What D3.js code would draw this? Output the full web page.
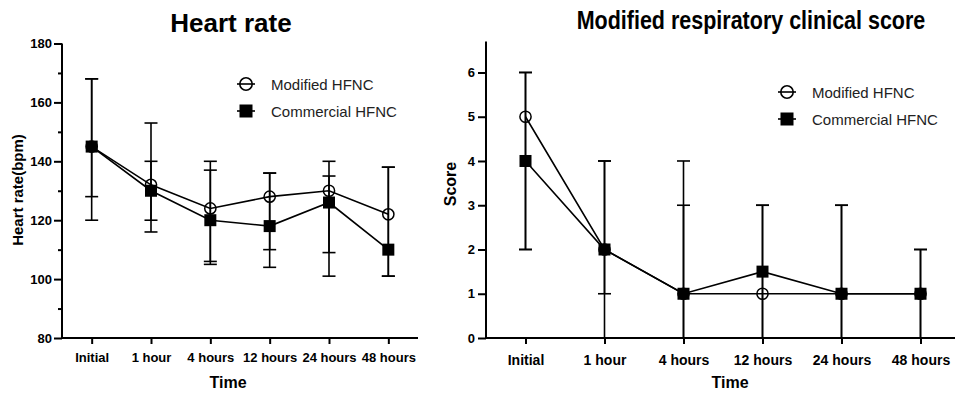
<!DOCTYPE html>
<html>
<head>
<meta charset="utf-8">
<script src="https://cdn.jsdelivr.net/npm/d3@7"></script>
<style>
  body { margin: 0; background: #fff; }
  svg { font-family: "Liberation Sans", Arial, sans-serif; }
</style>
</head>
<body>
<div id="chart"></div>
<script>
const WIDTH = 955;
const HEIGHT = 393;

// categories (same for both panels)
const times = ["Initial", "1 hour", "4 hours", "12 hours", "24 hours", "48 hours"];
const seriesNames = ["Modified HFNC", "Commercial HFNC"];

// heart rate panel
const hrModified = [145, 132, 124, 128, 130, 122];
const hrModifiedLow = [120, 116, 106, 110, 109, 101];
const hrModifiedHigh = [168, 153, 140, 136, 140, 138];
const hrCommercial = [145, 130, 120, 118, 126, 110];
const hrCommercialLow = [128, 120, 105, 104, 101, 101];
const hrCommercialHigh = [168, 140, 137, 136, 135, 138];
const hrTicks = [80, 100, 120, 140, 160, 180];
const hrMinorTicks = [90, 110, 130, 150, 170];

// respiratory score panel
const scModified = [5, 2, 1, 1, 1, 1];
const scModifiedLow = [2, 0, 0, 0, 0, 0];
const scModifiedHigh = [6, 4, 4, 3, 3, 2];
const scCommercial = [4, 2, 1, 1.5, 1, 1];
const scCommercialLow = [2, 1, 0, 0, 0, 0];
const scCommercialHigh = [6, 4, 3, 3, 3, 2];
const scTicks = [0, 1, 2, 3, 4, 5, 6];

const svg = d3.select("#chart")
  .append("svg")
    .attr("width", WIDTH)
    .attr("height", HEIGHT);

function drawPanel(opt) {
  const g = svg.append("g");
  const x = d3.scalePoint().domain(times).range(opt.xRange).padding(0.5);
  const y = d3.scaleLinear().domain(opt.yDomain).range(opt.yRange);

  // error bars
  const CAP = 6.5;
  opt.series.forEach((s) => {
    times.forEach((t, i) => {
      const cx = x(t);
      g.append("line")
        .attr("x1", cx).attr("x2", cx)
        .attr("y1", y(s.low[i])).attr("y2", y(s.high[i]))
        .attr("stroke", "#000").attr("stroke-width", 1.6);
      [s.low[i], s.high[i]].forEach((v) => {
        g.append("line")
          .attr("x1", cx - CAP).attr("x2", cx + CAP)
          .attr("y1", y(v)).attr("y2", y(v))
          .attr("stroke", "#000").attr("stroke-width", 1.6);
      });
    });
  });

  // lines
  const line = d3.line().x((d, i) => x(times[i])).y((d) => y(d));
  opt.series.forEach((s) => {
    g.append("path")
      .datum(s.values)
      .attr("d", line)
      .attr("fill", "none")
      .attr("stroke", "#000")
      .attr("stroke-width", 1.6);
  });

  // markers
  opt.series.forEach((s) => {
    if (s.shape === "circle") {
      g.selectAll(null).data(s.values).enter().append("circle")
        .attr("cx", (d, i) => x(times[i]))
        .attr("cy", (d) => y(d))
        .attr("r", 5.6)
        .attr("fill", "none")
        .attr("stroke", "#000")
        .attr("stroke-width", 1.5);
    } else {
      g.selectAll(null).data(s.values).enter().append("rect")
        .attr("x", (d, i) => x(times[i]) - 6)
        .attr("y", (d) => y(d) - 6)
        .attr("width", 12)
        .attr("height", 12)
        .attr("fill", "#000");
    }
  });

  // axes
  const yAxis = g.append("g")
    .attr("transform", "translate(" + opt.xRange[0] + ",0)")
    .call(d3.axisLeft(y).tickValues(opt.ticks).tickFormat(d3.format("d"))
      .tickSize(8).tickSizeOuter(0).tickPadding(opt.yPad));
  yAxis.select(".domain").attr("d", "M0," + opt.yRange[0] + "V" + opt.yRange[1]);
  if (opt.minor) {
    g.append("g")
      .attr("transform", "translate(" + opt.xRange[0] + ",0)")
      .call(d3.axisLeft(y).tickValues(opt.minor).tickSize(4).tickFormat(""))
      .select(".domain").remove();
  }
  const xAxis = g.append("g")
    .attr("transform", "translate(0," + opt.yRange[0] + ")")
    .call(d3.axisBottom(x).tickSize(6).tickSizeOuter(0).tickPadding(opt.xPad));
  xAxis.select(".domain").attr("d", "M" + opt.xRange[0] + ",0H" + Math.min(opt.xRange[1], WIDTH));

  g.selectAll(".domain, .tick line").attr("stroke", "#000").attr("stroke-width", 2);
  yAxis.selectAll("text").style("font-size", opt.yFont + "px").style("font-weight", "bold").attr("fill", "#000");
  xAxis.selectAll("text").style("font-size", opt.xFont + "px").style("font-weight", "bold").attr("fill", "#000");

  // title (optionally squeezed horizontally)
  g.append("text")
    .attr("transform", "translate(" + opt.title.x + "," + opt.title.y + ") scale(" + (opt.title.squeeze || 1) + ",1)")
    .attr("text-anchor", "middle")
    .style("font-size", opt.title.size + "px")
    .style("font-weight", "bold")
    .text(opt.title.text);

  // axis titles
  g.append("text")
    .attr("x", opt.xTitle.x).attr("y", 388)
    .attr("text-anchor", "middle")
    .style("font-size", "16px").style("font-weight", "bold")
    .text("Time");
  g.append("text")
    .attr("transform", "translate(" + opt.yTitle.x + "," + opt.yTitle.y + ") rotate(-90)")
    .attr("text-anchor", "middle")
    .style("font-size", opt.yTitle.size + "px").style("font-weight", "bold")
    .text(opt.yTitle.text);

  // legend
  opt.series.forEach((s, i) => {
    const ly = opt.legend.y + i * opt.legend.gap;
    const lx = opt.legend.x;
    g.append("line")
      .attr("x1", lx - 9).attr("x2", lx + 9)
      .attr("y1", ly).attr("y2", ly)
      .attr("stroke", "#000").attr("stroke-width", 1.6);
    if (s.shape === "circle") {
      g.append("circle").attr("cx", lx).attr("cy", ly).attr("r", 6.2)
        .attr("fill", "none").attr("stroke", "#000").attr("stroke-width", 1.6);
    } else {
      g.append("rect").attr("x", lx - 6.5).attr("y", ly - 6.5)
        .attr("width", 13).attr("height", 13).attr("fill", "#000");
    }
    g.append("text")
      .attr("x", lx + 25).attr("y", ly + 5.5)
      .style("font-size", "15px")
      .attr("fill", "#222")
      .text(seriesNames[i]);
  });
}

drawPanel({
  xRange: [62, 418],
  yDomain: [80, 180],
  yRange: [338, 43.5],
  ticks: hrTicks,
  minor: hrMinorTicks,
  yPad: 2, xPad: 9, yFont: 13, xFont: 13,
  series: [
    {values: hrModified, low: hrModifiedLow, high: hrModifiedHigh, shape: "circle"},
    {values: hrCommercial, low: hrCommercialLow, high: hrCommercialHigh, shape: "square"}
  ],
  title: {text: "Heart rate", x: 231, y: 32, size: 26},
  xTitle: {x: 228},
  yTitle: {text: "Heart rate(bpm)", x: 23, y: 190, size: 15},
  legend: {x: 246, y: 84, gap: 27}
});

drawPanel({
  xRange: [486, 960],
  yDomain: [0, 6.7],
  yRange: [338, 41.5],
  ticks: scTicks,
  minor: null,
  yPad: 3, xPad: 11, yFont: 13, xFont: 14,
  series: [
    {values: scModified, low: scModifiedLow, high: scModifiedHigh, shape: "circle"},
    {values: scCommercial, low: scCommercialLow, high: scCommercialHigh, shape: "square"}
  ],
  title: {text: "Modified respiratory clinical score", x: 751, y: 29, size: 25, squeeze: 0.86},
  xTitle: {x: 730},
  yTitle: {text: "Score", x: 456, y: 184, size: 16},
  legend: {x: 787, y: 92, gap: 27}
});
</script>
</body>
</html>
